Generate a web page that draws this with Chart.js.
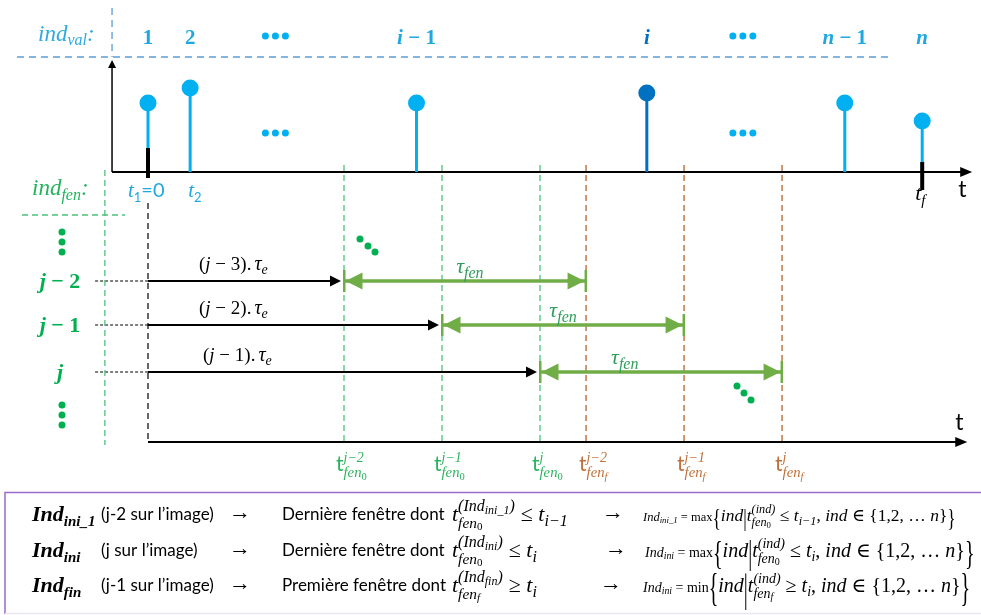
<!DOCTYPE html>
<html lang="fr">
<head>
<meta charset="utf-8">
<title>Fenêtres glissantes</title>
<script src="https://cdn.jsdelivr.net/npm/chart.js@4.4.1/dist/chart.umd.min.js"></script>
<style>
  html, body { margin: 0; padding: 0; background: #fff; }
  #wrap { width: 981px; height: 615px; }
</style>
</head>
<body>
<div id="wrap"><canvas id="diagram" width="981" height="615"></canvas></div>
<script>
// time is expressed in tau_e units, t1 = 0
const valTimes   = [0, 0.43, 2.74, 5.09, 7.11, 7.9];
const valHeights = [6.9, 8.4, 6.9, 7.9, 6.9, 5.1];
const valLabels  = ['1', '2', 'i − 1', 'i', 'n − 1', 'n'];
const valColors  = ['#00B0F0', '#00B0F0', '#00B0F0', '#0070C0', '#00B0F0', '#00B0F0'];
const gapTimes   = [1.3, 6.07];          // the "•••" between stems

const winLabels  = ['j − 2', 'j − 1', 'j'];
const winSup     = ['j−2', 'j−1', 'j'];
const winMult    = [3, 2, 1];             // (j - k).tau_e
const winStart   = [2, 3, 4];             // j = 5
const winRows    = [-10.9, -15.3, -20.0];
const tauFen     = 2.47;
const tauLabelAt = [0.52, 0.5, 0.35];     // where tau_fen sits along each window

const axisStart  = -0.367;
const axisEnd    = 8.41;
const bottomAxis = -27.0;

const boxRows = [
  { name: 'ini_1', note: '(j-2 sur l’image)', desc: 'Dernière fenêtre dont', edge: '0', rel: '≤', rhs: 'i−1', lhs: 'ini_1', op: 'max' },
  { name: 'ini',   note: '(j sur l’image)',   desc: 'Dernière fenêtre dont', edge: '0', rel: '≤', rhs: 'i',   lhs: 'ini',   op: 'max' },
  { name: 'fin',   note: '(j-1 sur l’image)', desc: 'Première fenêtre dont', edge: 'f', rel: '≥', rhs: 'i',   lhs: 'ini',   op: 'min' }
];

const MATH = "'Liberation Serif', 'DejaVu Serif', serif";
const SANS = "Lato, 'Liberation Sans', sans-serif";
const mi  = s => `italic ${s}px ${MATH}`;
const mbi = s => `bold italic ${s}px ${MATH}`;
const mb  = s => `bold ${s}px ${MATH}`;
const mr  = s => `${s}px ${MATH}`;
const sn  = s => `${s}px ${SANS}`;

const GREEN = '#00B050';
const GREEN_LINE = '#4CC27A';
const ARROW_GREEN = '#70AD47';
const BROWN = '#C0703A';
const BROWN_LINE = '#B5622B';

// ---------- text helpers ----------
function runsWidth(ctx, runs) {
  let w = 0;
  runs.forEach(r => { w += runWidth(ctx, r); });
  return w;
}
function runWidth(ctx, r) {
  if (r.stack) return Math.max(runsWidth(ctx, r.up), runsWidth(ctx, r.dn));
  if (r.gap) return r.gap;
  ctx.font = r.f;
  return ctx.measureText(r.t).width;
}
function drawRuns(ctx, x, y, runs, color, align) {
  if (align === 'center') x -= runsWidth(ctx, runs) / 2;
  runs.forEach(r => {
    const w = runWidth(ctx, r);
    if (r.stack) {
      drawRuns(ctx, x, y + r.upDy, r.up, color);
      drawRuns(ctx, x, y + r.dnDy, r.dn, color);
    } else if (!r.gap) {
      ctx.font = r.f;
      ctx.fillStyle = r.c || color;
      if (r.sy) {
        const c = r.cy || 0;
        ctx.save();
        ctx.translate(x, y + (r.dy || 0) - c);
        ctx.scale(1, r.sy);
        ctx.fillText(r.t, 0, c);
        ctx.restore();
      } else {
        ctx.fillText(r.t, x, y + (r.dy || 0));
      }
    }
    x += w;
  });
  return x;
}

// bold math label: letters italic, digits and signs upright
function boldMath(label, size) {
  return label.split('').map(ch => ({ t: ch, f: /[a-z]/.test(ch) ? mbi(size) : mb(size) }));
}

function fenRuns(size, supRuns, edge, upright) {
  return [
    { t: 't', f: upright ? sn(size) : mi(size) },
    { stack: true, upDy: -size * 0.45, dnDy: size * 0.3,
      up: supRuns,
      dn: [{ t: 'fen', f: mi(size * 0.7) },
           { t: edge, f: edge === '0' ? mr(size * 0.5) : mi(size * 0.5), dy: size * 0.12 }] }
  ];
}

function bigGlyph(t, fs, scale) {
  const g = fs * 0.25;
  return { t, f: mr(fs), sy: scale, cy: g, dy: g - 1 };
}

function arrowHead(ctx, x, y, dir, len, half, color) {
  ctx.fillStyle = color;
  ctx.beginPath();
  if (dir === 'right') { ctx.moveTo(x, y); ctx.lineTo(x - len, y - half); ctx.lineTo(x - len, y + half); }
  if (dir === 'left')  { ctx.moveTo(x, y); ctx.lineTo(x + len, y - half); ctx.lineTo(x + len, y + half); }
  if (dir === 'up')    { ctx.moveTo(x, y); ctx.lineTo(x - half, y + len); ctx.lineTo(x + half, y + len); }
  ctx.closePath();
  ctx.fill();
}

function dots(ctx, pts, r, color) {
  ctx.fillStyle = color;
  pts.forEach(p => { ctx.beginPath(); ctx.arc(p[0], p[1], r, 0, Math.PI * 2); ctx.fill(); });
}

// ---------- datasets ----------
function seg(pts, color, width, dash, order) {
  return { data: pts, showLine: true, borderColor: color, borderWidth: width,
           borderDash: dash || [], pointRadius: 0, order: order || 5, fill: false, tension: 0 };
}

const datasets = [];
datasets.push(seg([{ x: -1.337, y: 11.5 }, { x: 7.59, y: 11.5 }], '#5B9BD5', 1.3, [7, 5], 6));
datasets.push(seg([{ x: axisStart, y: 16.4 }, { x: axisStart, y: 11.5 }], '#5B9BD5', 1.3, [7, 5], 6));
datasets.push(seg([{ x: axisStart, y: 0 }, { x: axisStart, y: 10.6 }], '#000', 1.5));
datasets.push(seg([{ x: axisStart, y: 0 }, { x: axisEnd - 0.1, y: 0 }], '#000', 2));
valTimes.forEach((t, i) => {
  datasets.push(seg([{ x: t, y: 0 }, { x: t, y: valHeights[i] }], valColors[i], 3, null, 3));
});
datasets.push({
  data: valTimes.map((t, i) => ({ x: t, y: valHeights[i] })),
  pointRadius: 8.5, pointBackgroundColor: valColors, pointBorderWidth: 0, order: 1
});
datasets.push(seg([{ x: valTimes[0], y: -0.6 }, { x: valTimes[0], y: 2.4 }], '#000', 4, null, 2));
datasets.push(seg([{ x: valTimes[5], y: -1.8 }, { x: valTimes[5], y: 1.0 }], '#000', 4, null, 2));

// window part
datasets.push(seg([{ x: -0.44, y: 0.2 }, { x: -0.44, y: -27.3 }], GREEN_LINE, 1.3, [6, 4], 6));
datasets.push(seg([{ x: -1.286, y: -4.3 }, { x: -0.235, y: -4.3 }], GREEN_LINE, 1.3, [6, 4], 6));
winStart.forEach(s => {
  datasets.push(seg([{ x: s, y: 0.7 }, { x: s, y: -27.3 }], GREEN_LINE, 1.3, [6, 4], 6));
  datasets.push(seg([{ x: s + tauFen, y: 0.7 }, { x: s + tauFen, y: -27.3 }], BROWN_LINE, 1.3, [6, 4], 6));
});
datasets.push(seg([{ x: 0, y: -3.1 }, { x: 0, y: bottomAxis }], '#000', 1.2, [6, 4], 6));
winRows.forEach((r, i) => {
  datasets.push(seg([{ x: -0.54, y: r }, { x: 0, y: r }], '#000', 1, [3, 2], 6));
  datasets.push(seg([{ x: 0, y: r }, { x: winStart[i] - 0.1, y: r }], '#000', 2, null, 4));
  datasets.push(seg([{ x: winStart[i], y: r }, { x: winStart[i] + tauFen, y: r }], ARROW_GREEN, 3.5, null, 4));
});
datasets.push(seg([{ x: 0, y: bottomAxis }, { x: axisEnd - 0.15, y: bottomAxis }], '#000', 2));

// ---------- annotations ----------
const annotate = {
  id: 'annotate',
  beforeDraw(chart) {
    const ctx = chart.ctx;
    ctx.save();
    ctx.fillStyle = '#fff';
    ctx.fillRect(0, 0, chart.width, chart.height);
    ctx.restore();
  },
  afterDatasetsDraw(chart) {
    const { ctx, scales: { x, y } } = chart;
    const X = v => x.getPixelForValue(v);
    const Y = v => y.getPixelForValue(v);
    ctx.save();
    ctx.textBaseline = 'alphabetic';

    // axis arrow heads
    arrowHead(ctx, X(axisStart), Y(11.2), 'up', 8, 4, '#000');
    arrowHead(ctx, X(axisEnd), Y(0), 'right', 12, 5, '#000');
    arrowHead(ctx, X(axisEnd - 0.05), Y(bottomAxis), 'right', 12, 5, '#000');

    // top labels
    drawRuns(ctx, 38, 41, [{ t: 'ind', f: mi(23) }, { t: 'val', f: mi(16), dy: 4 }, { t: ':', f: mi(23) }], '#2FA9DF');
    valLabels.forEach((l, i) => {
      drawRuns(ctx, X(valTimes[i]), 44, boldMath(l, 21), valColors[i] === '#0070C0' ? '#0070C0' : '#1FA8E0', 'center');
    });
    gapTimes.forEach(t => {
      const cx = X(t);
      dots(ctx, [[cx - 10, 36], [cx, 36], [cx + 10, 36]], 3.5, '#00B0F0');
      dots(ctx, [[cx - 10, 133], [cx, 133], [cx + 10, 133]], 3.5, '#00B0F0');
    });

    drawRuns(ctx, X(valTimes[0]) - 20, 197, [{ t: 't', f: mi(21) }, { t: '1', f: sn(13), dy: 5 }, { t: '=0', f: sn(20) }], '#1FA8E0');
    drawRuns(ctx, X(valTimes[1]) - 2, 197, [{ t: 't', f: mi(21) }, { t: '2', f: sn(13), dy: 5 }], '#1FA8E0');
    drawRuns(ctx, X(valTimes[5]) - 7, 200, [{ t: 't', f: mi(22) }, { t: 'f', f: mi(15), dy: 5 }], '#000');
    drawRuns(ctx, X(axisEnd) - 14, 197, [{ t: 't', f: sn(23) }], '#000');
    drawRuns(ctx, X(axisEnd - 0.05) - 12, 430, [{ t: 't', f: sn(23) }], '#000');

    // window part labels
    drawRuns(ctx, 32, 195, [{ t: 'ind', f: mi(23) }, { t: 'fen', f: mi(16), dy: 5 }, { t: ':', f: mi(23) }], '#22B35C');
    dots(ctx, [[62, 232], [62, 242], [62, 252]], 3.5, GREEN);
    dots(ctx, [[62, 405], [62, 415], [62, 425]], 3.5, GREEN);
    dots(ctx, [[360, 239], [368, 246], [375, 252]], 3.5, GREEN);
    dots(ctx, [[737, 386], [744, 393], [751, 400]], 3.5, GREEN);

    winRows.forEach((r, i) => {
      const ry = Y(r);
      drawRuns(ctx, 60, ry + 7, boldMath(winLabels[i], 22), GREEN, 'center');

      drawRuns(ctx, X(0) + 51 + (i === 2 ? 4 : 0), ry - 11, [
        { t: '(', f: mr(19) }, { t: 'j', f: mi(19) }, { t: ' − ' + winMult[i] + ').', f: mr(19) },
        { gap: 3 }, { t: 'τ', f: mi(20) }, { t: 'e', f: mi(14), dy: 4 }
      ], '#000');

      // black arrow head
      arrowHead(ctx, X(winStart[i]) - 3, ry, 'right', 11, 5.5, '#000');

      // green double arrow
      const s = X(winStart[i]), e = X(winStart[i] + tauFen);
      ctx.fillStyle = ARROW_GREEN;
      ctx.fillRect(s - 1, ry - 11, 2.5, 22);
      ctx.fillRect(e - 1.5, ry - 11, 2.5, 22);
      arrowHead(ctx, s + 1.5, ry, 'left', 17, 8.5, ARROW_GREEN);
      arrowHead(ctx, e - 1.5, ry, 'right', 17, 8.5, ARROW_GREEN);

      drawRuns(ctx, X(winStart[i] + tauFen * tauLabelAt[i]), ry - 8,
        [{ t: 'τ', f: mi(22) }, { t: 'fen', f: mi(16), dy: 5 }], '#2E9E5A', 'center');

      // labels under the bottom axis
      const sup = [{ t: winSup[i], f: mi(14) }];
      drawRuns(ctx, s - 8, 471, fenRuns(21, sup, '0', true), '#2DB35F');
      drawRuns(ctx, e - 7, 471, fenRuns(21, sup, 'f', true), BROWN);
    });

    // bottom box
    ctx.strokeStyle = '#9B6BC9';
    ctx.lineWidth = 1.5;
    ctx.beginPath();
    ctx.moveTo(5, 614); ctx.lineTo(5, 492.5); ctx.lineTo(981, 492.5);
    ctx.stroke();
    ctx.strokeStyle = '#ECE6F4';
    ctx.beginPath(); ctx.moveTo(5, 613.5); ctx.lineTo(981, 613.5); ctx.stroke();

    const baselines = [521, 557, 592];
    const arrowX = [602, 605, 600];
    const formulaX = [643, 645, 643];
    const prefixSize = [12.5, 14, 14];
    const mainSize = [17.5, 20, 20];
    const braceScale = [1.45, 1.65, 2.05];
    boxRows.forEach((row, i) => {
      const by = baselines[i];
      const nameRuns = [{ t: 'Ind', f: mbi(22) }, { t: row.name, f: mbi(15), dy: 5 }];
      drawRuns(ctx, 32, by, nameRuns, '#000');
      drawRuns(ctx, 101, by - 1, [{ t: row.note, f: sn(17) }], '#000');
      drawRuns(ctx, 229, by - 2, [{ t: '→', f: mr(22) }], '#000');
      drawRuns(ctx, 282, by - 1, [{ t: row.desc, f: sn(17) }], '#000');
      const supDesc = [{ t: '(', f: mi(16) }, { t: 'Ind', f: mi(16) }, { t: row.name, f: mi(12), dy: 3 }, { t: ')', f: mi(16) }];
      const cx = drawRuns(ctx, 452, by, fenRuns(22, supDesc, row.edge, false), '#000');
      drawRuns(ctx, cx + 6, by, [{ t: row.rel + ' ', f: mr(22) }, { t: 't', f: mi(22) }, { t: row.rhs, f: mi(16), dy: 5 }], '#000');
      drawRuns(ctx, arrowX[i], by - 2, [{ t: '→', f: mr(22) }], '#000');

      const ps = prefixSize[i], fs = mainSize[i], bs = braceScale[i];
      const formula = [
        { t: 'Ind', f: mi(ps) }, { t: row.lhs, f: mi(ps * 0.7), dy: 2 },
        { t: ' = ' + row.op, f: mr(ps) },
        bigGlyph('{', fs, bs),
        { t: 'ind', f: mi(fs) },
        bigGlyph('|', fs, bs),
        ...fenRuns(fs, [{ t: '(ind)', f: mi(fs * 0.7) }], row.edge, false),
        { t: ' ' + row.rel + ' ', f: mr(fs) }, { t: 't', f: mi(fs) }, { t: row.rhs, f: mi(fs * 0.7), dy: 4 },
        { t: ', ', f: mr(fs) }, { t: 'ind', f: mi(fs) }, { t: ' ∈ ', f: mr(fs) },
        { t: '{', f: mr(fs) }, { t: '1,2, … ', f: mr(fs) }, { t: 'n', f: mi(fs) }, { t: '}', f: mr(fs) },
        bigGlyph('}', fs, bs)
      ];
      drawRuns(ctx, formulaX[i], by, formula, '#000');
    });

    ctx.restore();
  }
};

new Chart(document.getElementById('diagram'), {
  type: 'scatter',
  data: { datasets },
  options: {
    responsive: false,
    animation: false,
    events: [],
    layout: { padding: 0, autoPadding: false },
    plugins: { legend: { display: false }, tooltip: { enabled: false } },
    scales: {
      x: { type: 'linear', display: false, min: -148 / 98, max: 833 / 98 },
      y: { type: 'linear', display: false, min: -44.3, max: 17.2 }
    }
  },
  plugins: [annotate]
});
</script>
</body>
</html>
